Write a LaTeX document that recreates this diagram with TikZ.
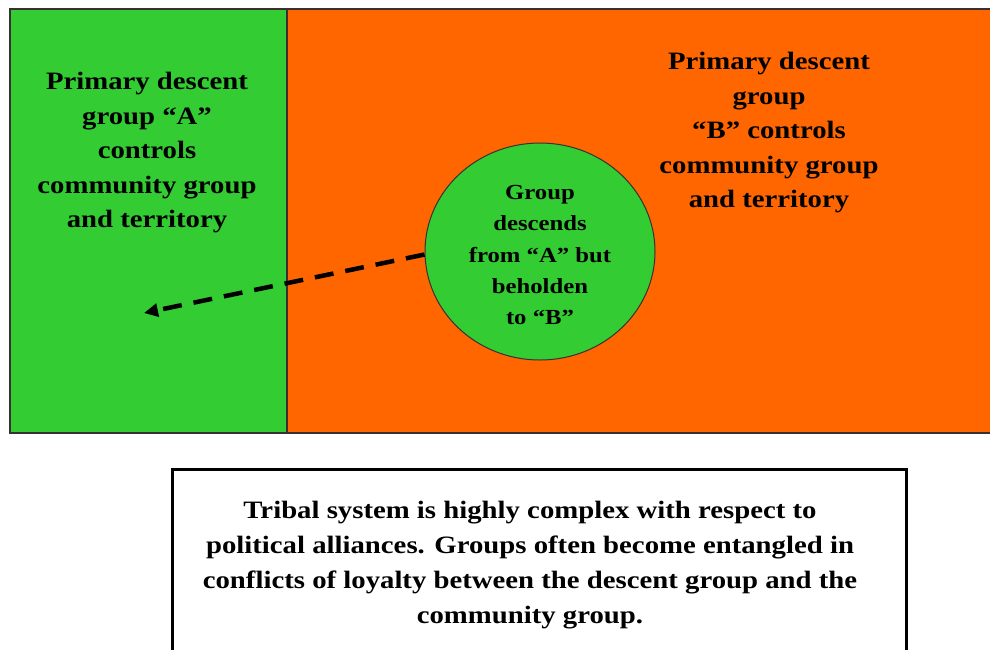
\documentclass[tikz,border=0pt]{standalone}
\usepackage{fontspec}
\setmainfont{Liberation Serif}
\newfontfamily\widefont[FakeStretch=1.15]{Liberation Serif}
\usetikzlibrary{arrows.meta,shapes.geometric}
\definecolor{grn}{HTML}{33CC33}
\definecolor{org}{HTML}{FF6600}
\definecolor{edge}{HTML}{3A3030}
\tikzset{
  lbl/.style={align=center, inner sep=0pt, font=\widefont\bfseries\fontsize{25}{34.5}\selectfont},
  circlbl/.style={align=center, inner sep=0pt, font=\widefont\bfseries\fontsize{21.5}{31.2}\selectfont},
  notelbl/.style={align=center, inner sep=0pt, font=\widefont\bfseries\fontsize{25}{35}\selectfont},
  region/.style={draw=edge, line width=1.2pt},
  conn/.style={line width=4.5pt, dash pattern=on 19pt off 12pt, -{Triangle[length=14pt,width=13pt]}}
}
\begin{document}
\begin{tikzpicture}[x=1pt,y=-1pt]
\useasboundingbox (0,0) rectangle (990,649);
% regions
\fill[grn] (10,9) rectangle (287,433);
\fill[org] (287,9) rectangle (1000,433);
\draw[region] (1000,9) -- (10,9) -- (10,433) -- (1000,433);
\draw[region] (287,9) -- (287,433);
% circle
\node[ellipse, draw=edge, line width=1pt, fill=grn, minimum width=230pt, minimum height=217pt, inner sep=0pt] (grp) at (540,251.5) {};
\node[circlbl] (grptxt) at (540,255) {Group\\descends\\from “A” but\\beholden\\to “B”};
% labels
\node[lbl] (A) at (147,153) {Primary descent\\group “A”\\controls\\community group\\and territory};
\node[lbl] (B) at (769,133) {Primary descent\\group\\“B” controls\\community group\\and territory};
% arrow
\coordinate (tip) at (144,313);
\path (grp.west) ++(0,3) coordinate (start);
\draw[conn] (start) -- (tip);
% note box
\draw[line width=3pt] (172,469) rectangle (906,700);
\node[notelbl] (note) at (530,565) {Tribal system is highly complex with respect to\\political alliances. Groups often become entangled in\\conflicts of loyalty between the descent group and the\\community group.};
\end{tikzpicture}
\end{document}
